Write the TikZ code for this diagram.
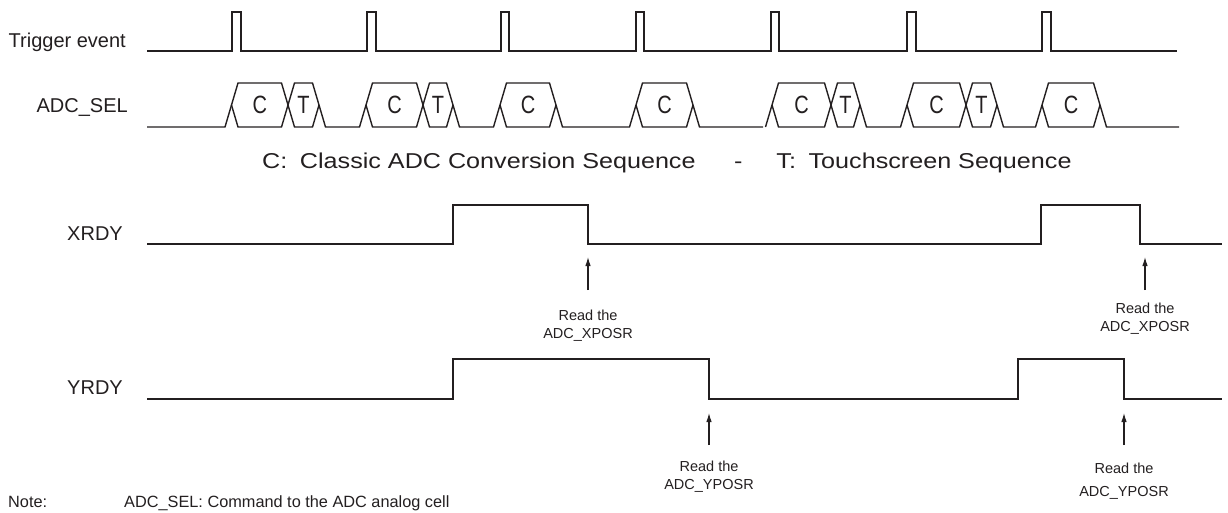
\documentclass[tikz,border=0pt]{standalone}
\usepackage{fontspec}
\setmainfont{Liberation Sans}
\usetikzlibrary{arrows.meta}
\definecolor{ink}{HTML}{231F20}
\begin{document}
\begin{tikzpicture}[x=1pt,y=-1pt,
  sig/.style={line width=1.9pt, draw=ink, line join=miter},
  bus/.style={line width=1.4pt, draw=ink, line join=miter},
  lab/.style={font=\fontsize{20}{22}\selectfont, text=ink, inner sep=0pt, anchor=base east},
  slot/.style={font=\fontsize{25}{26}\selectfont, text=ink, inner sep=0pt, xscale=0.8, transform shape},
  legend/.style={font=\fontsize{21.5}{24}\selectfont, text=ink, inner sep=0pt, anchor=base west, xscale=1.17, transform shape},
  readlab/.style={font=\fontsize{14.5}{18}\selectfont, text=ink, inner sep=0pt, anchor=base, align=center},
  note/.style={font=\fontsize{16.3}{18}\selectfont, text=ink, inner sep=0pt, anchor=base west},
  arr/.style={draw=ink, line width=1.1pt, -{Latex[length=9pt,width=5.5pt]}}
]
\useasboundingbox (0,0) rectangle (1228,512);

% labels
\node[lab] (ltrig) at (126,47) {Trigger event};
\node[lab] (lsel) at (128,112) {ADC\_SEL};
\node[lab] (lx) at (123,240) {XRDY};
\node[lab] (ly) at (123,394) {YRDY};

% trigger
\draw[sig] (147,51) -- (232,51) -- (232,12) -- (241,12) -- (241,51)
  -- (367,51) -- (367,12) -- (376,12) -- (376,51)
  -- (501,51) -- (501,12) -- (509,12) -- (509,51)
  -- (636,51) -- (636,12) -- (644,12) -- (644,51)
  -- (771,51) -- (771,12) -- (779,12) -- (779,51)
  -- (907,51) -- (907,12) -- (916,12) -- (916,51)
  -- (1042,51) -- (1042,12) -- (1051,12) -- (1051,51) -- (1177,51);

% ADC_SEL bus
\foreach \a/\b [count=\i] in {231.5/288, 366/423, 500/556, 636/693, 772/831, 907/966, 1042/1100}{
  \draw[bus] (\a,105) -- (\a+6.5,83) -- (\b-6.5,83) -- (\b,105) -- (\b-6.5,127) -- (\a+6.5,127) -- cycle;
  \node[slot] (c\i) at ({(\a+\b)/2},105) {C};
}
\foreach \a/\b [count=\i] in {288/319, 423/453, 831/860, 966/997}{
  \draw[bus] (\a,105) -- (\a+6.5,83) -- (\b-6.5,83) -- (\b,105) -- (\b-6.5,127) -- (\a+6.5,127) -- cycle;
  \node[slot] (t\i) at ({(\a+\b)/2},105) {T};
}
\draw[bus] (147,127) -- (225,127) -- (231.5,105)
  (319,105) -- (325.5,127) -- (359.5,127) -- (366,105)
  (453,105) -- (459.5,127) -- (493.5,127) -- (500,105)
  (556,105) -- (562.5,127) -- (629.5,127) -- (636,105)
  (693,105) -- (699.5,127) -- (763,127)
  (765.5,127) -- (772,105)
  (860,105) -- (866.5,127) -- (900.5,127) -- (907,105)
  (997,105) -- (1003.5,127) -- (1035.5,127) -- (1042,105)
  (1100,105) -- (1106.5,127) -- (1179,127);

% legend
\node[legend] (leg) at (262,168) {C:\hspace{0.5em}Classic ADC Conversion Sequence\hspace{33pt}-\hspace{29pt}T:\hspace{0.5em}Touchscreen Sequence};

% XRDY
\draw[sig] (147,244) -- (453,244) -- (453,205) -- (588,205) -- (588,244)
  -- (1041,244) -- (1041,205) -- (1140,205) -- (1140,244) -- (1222,244);

% YRDY
\draw[sig] (147,399) -- (453,399) -- (453,359) -- (709,359) -- (709,399)
  -- (1018,399) -- (1018,359) -- (1124,359) -- (1124,399) -- (1222,399);

% arrows and read labels
\coordinate (xa1t) at (588,290); \coordinate (xa1h) at (588,257);
\coordinate (xa2t) at (1145,290); \coordinate (xa2h) at (1145,257);
\coordinate (ya1t) at (709,445); \coordinate (ya1h) at (709,413);
\coordinate (ya2t) at (1124,445); \coordinate (ya2h) at (1124,413);
\draw[arr] (xa1t) -- (xa1h);
\draw[arr] (xa2t) -- (xa2h);
\draw[arr] (ya1t) -- (ya1h);
\draw[arr] (ya2t) -- (ya2h);
\node[readlab] (rx1) at (588,338) {Read the\\ADC\_XPOSR};
\node[readlab] (rx2) at (1145,331) {Read the\\ADC\_XPOSR};
\node[readlab] (ry1) at (709,489) {Read the\\ADC\_YPOSR};
\node[readlab] (ry2) at (1124,496) {Read the\\[5pt]ADC\_YPOSR};

% note
\node[note] (n1) at (8,507) {Note:};
\node[note] (n2) at (124,507) {ADC\_SEL: Command to the ADC analog cell};
\end{tikzpicture}
\end{document}
